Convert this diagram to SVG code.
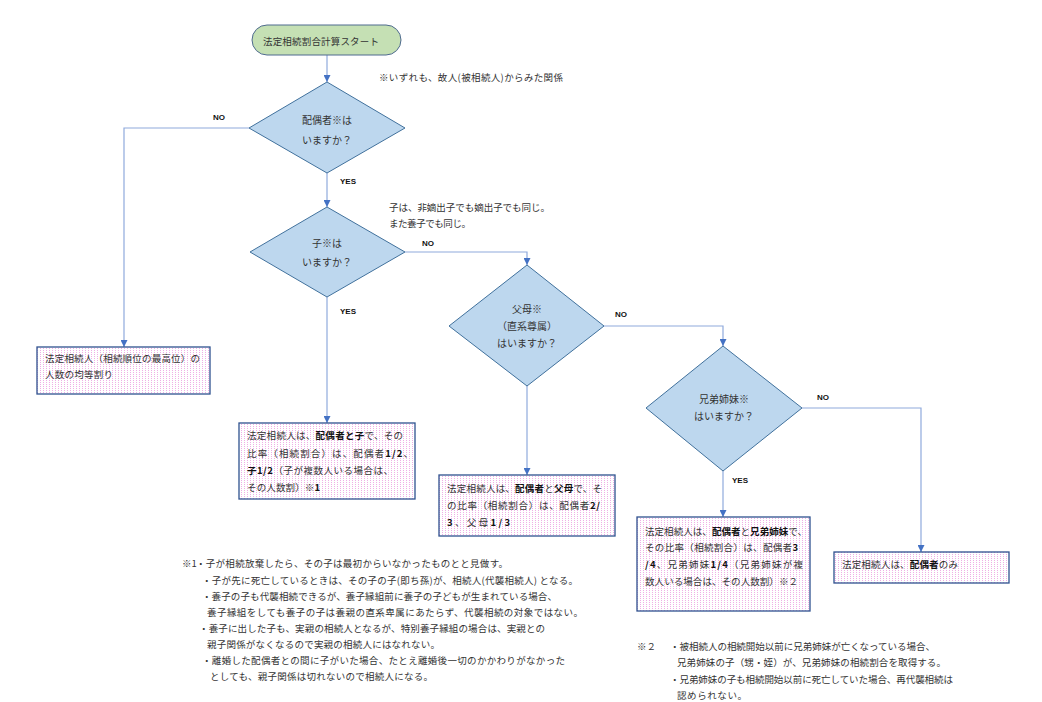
<svg xmlns="http://www.w3.org/2000/svg" width="1042" height="702" viewBox="0 0 1042 702">
<defs>
<pattern id="dots" width="3" height="2" patternUnits="userSpaceOnUse">
<rect width="3" height="2" fill="#ffffff"/>
<rect x="1" y="0" width="1" height="1" fill="#e060cc" opacity="0.5"/>
</pattern>
<marker id="arr" viewBox="0 0 8 8" refX="8" refY="4" markerWidth="7" markerHeight="7" markerUnits="userSpaceOnUse" orient="auto">
<path d="M0,0 L8,4 L0,8 Z" fill="#4472c4"/>
</marker>
<style>
text{font-family:"Noto Sans CJK JP","Noto Sans CJK SC",sans-serif;fill:#333333;font-size:9.5px}
.b{font-weight:bold;fill:#111}
.lbl{font-family:"Liberation Sans",Arial,sans-serif;font-weight:bold;font-size:8px;fill:#111}
.dia{fill:#bdd7ee;stroke:#41719c;stroke-width:1}
.box{fill:url(#dots);stroke:#2f528f;stroke-width:1.3}
.ct{text-anchor:middle;font-size:10px}
.con{fill:none;stroke:#8faadc;stroke-width:1.2;marker-end:url(#arr)}
</style>
</defs>
<rect width="1042" height="702" fill="#ffffff"/>

<g id="connectors">
<path class="con" d="M327,55 L327,82"/>
<path class="con" d="M249,128 L124,128 L124,347"/>
<path class="con" d="M327,173 L327,207"/>
<path class="con" d="M405,252 L527,252 L527,265"/>
<path class="con" d="M327,297 L327,423"/>
<path class="con" d="M604,326 L723,326 L723,346"/>
<path class="con" d="M527,386 L527,475"/>
<path class="con" d="M802,408 L921,408 L921,552"/>
<path class="con" d="M723,471 L723,517"/>
<text class="lbl" x="213" y="120">NO</text>
<text class="lbl" x="340" y="184">YES</text>
<text class="lbl" x="422" y="246">NO</text>
<text class="lbl" x="340" y="314">YES</text>
<text class="lbl" x="615" y="317">NO</text>
<text class="lbl" x="817" y="400">NO</text>
<text class="lbl" x="732" y="483">YES</text>
</g>

<g id="start">
<rect x="252" y="25" width="149" height="30" rx="15" ry="15" fill="#c5e0b4" stroke="#4f6b8f" stroke-width="1"/>
<text x="263" y="45" font-size="10.5" textLength="116" lengthAdjust="spacing">法定相続割合計算スタート</text>
</g>

<g id="d1">
<polygon class="dia" points="327,82 405,128 327,173 249,128"/>
<text class="ct" x="327" y="124">配偶者※は</text>
<text class="ct" x="327" y="144">いますか？</text>
</g>

<g id="d2">
<polygon class="dia" points="327,207 405,252 327,297 250,252"/>
<text class="ct" x="327" y="247">子※は</text>
<text class="ct" x="327" y="266">いますか？</text>
</g>

<g id="d3">
<polygon class="dia" points="527,265 604,326 527,386 449,326"/>
<text class="ct" x="527" y="313">父母※</text>
<text class="ct" x="527" y="330">（直系尊属）</text>
<text class="ct" x="527" y="347">はいますか？</text>
</g>

<g id="d4">
<polygon class="dia" points="723,346 802,408 723,471 646,408"/>
<text class="ct" x="724" y="403">兄弟姉妹※</text>
<text class="ct" x="724" y="420">はいますか？</text>
</g>

<g id="box1">
<rect class="box" x="37" y="347" width="173" height="47"/>
<text x="45" y="362" textLength="155" lengthAdjust="spacing">法定相続人（相続順位の最高位）の</text>
<text x="45" y="378" textLength="68" lengthAdjust="spacing">人数の均等割り</text>
</g>

<g id="box2">
<rect class="box" x="239" y="423" width="176" height="76"/>
<text x="247" y="439" textLength="156" lengthAdjust="spacing">法定相続人は、<tspan class="b">配偶者と子</tspan>で、その</text>
<text x="247" y="457" textLength="166" lengthAdjust="spacing">比率（相続割合）は、配偶者<tspan class="b">1/2</tspan>、</text>
<text x="247" y="474" textLength="146" lengthAdjust="spacing"><tspan class="b">子1/2</tspan>（子が複数人いる場合は、</text>
<text x="247" y="491" textLength="73" lengthAdjust="spacing">その人数割）※<tspan class="b">1</tspan></text>
</g>

<g id="box3">
<rect class="box" x="439" y="475" width="176" height="61"/>
<text x="447" y="492" textLength="155" lengthAdjust="spacing">法定相続人は、<tspan class="b">配偶者</tspan>と<tspan class="b">父母</tspan>で、そ</text>
<text x="447" y="509" textLength="153" lengthAdjust="spacing">の比率（相続割合）は、配偶者<tspan class="b">2/</tspan></text>
<text x="447" y="526" textLength="63" lengthAdjust="spacing"><tspan class="b">3</tspan>、父母<tspan class="b">1/3</tspan></text>
</g>

<g id="box4">
<rect class="box" x="637" y="517" width="173" height="94"/>
<text x="645" y="535" textLength="162" lengthAdjust="spacing">法定相続人は、<tspan class="b">配偶者</tspan>と<tspan class="b">兄弟姉妹</tspan>で、</text>
<text x="645" y="551" textLength="153" lengthAdjust="spacing">その比率（相続割合）は、配偶者<tspan class="b">3</tspan></text>
<text x="645" y="568" textLength="158" lengthAdjust="spacing"><tspan class="b">/4</tspan>、兄弟姉妹<tspan class="b">1/4</tspan>（兄弟姉妹が複</text>
<text x="645" y="585" textLength="153" lengthAdjust="spacing">数人いる場合は、その人数割）※２</text>
</g>

<g id="box5">
<rect class="box" x="834" y="552" width="175" height="31"/>
<text x="842" y="568" textLength="116" lengthAdjust="spacing">法定相続人は、<tspan class="b">配偶者</tspan>のみ</text>
</g>

<g id="notes">
<text x="379" y="81" textLength="184" lengthAdjust="spacing">※いずれも、故人(被相続人)からみた関係</text>
<text x="389" y="211" textLength="161" lengthAdjust="spacing">子は、非嫡出子でも嫡出子でも同じ。</text>
<text x="389" y="227" textLength="82" lengthAdjust="spacing">また養子でも同じ。</text>

<text x="182" y="567">※1</text>
<text x="196" y="567" textLength="312" lengthAdjust="spacing">・子が相続放棄したら、その子は最初からいなかったものとと見做す。</text>
<text x="202" y="584" textLength="376" lengthAdjust="spacing">・子が先に死亡しているときは、その子の子(即ち孫)が、相続人(代襲相続人) となる。</text>
<text x="202" y="600" textLength="355" lengthAdjust="spacing">・養子の子も代襲相続できるが、養子縁組前に養子の子どもが生まれている場合、</text>
<text x="207" y="616" textLength="376" lengthAdjust="spacing">養子縁組をしても養子の子は養親の直系卑属にあたらず、代襲相続の対象ではない。</text>
<text x="199" y="632" textLength="346" lengthAdjust="spacing">・養子に出した子も、実親の相続人となるが、特別養子縁組の場合は、実親との</text>
<text x="207" y="648" textLength="233" lengthAdjust="spacing">親子関係がなくなるので実親の相続人にはなれない。</text>
<text x="202" y="664" textLength="363" lengthAdjust="spacing">・離婚した配偶者との間に子がいた場合、たとえ離婚後一切のかかわりがなかった</text>
<text x="210" y="680" textLength="223" lengthAdjust="spacing">としても、親子関係は切れないので相続人になる。</text>

<text x="637" y="650">※２</text>
<text x="670" y="650" textLength="265" lengthAdjust="spacing">・被相続人の相続開始以前に兄弟姉妹が亡くなっている場合、</text>
<text x="677" y="666" textLength="269" lengthAdjust="spacing">兄弟姉妹の子（甥・姪）が、兄弟姉妹の相続割合を取得する。</text>
<text x="670" y="683" textLength="283" lengthAdjust="spacing">・兄弟姉妹の子も相続開始以前に死亡していた場合、再代襲相続は</text>
<text x="677" y="699" textLength="70" lengthAdjust="spacing">認められない。</text>
</g>
</svg>
